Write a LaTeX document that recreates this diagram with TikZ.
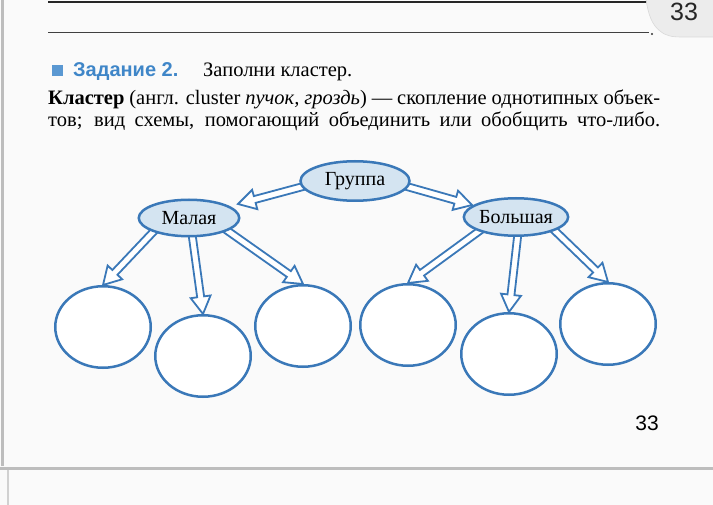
\documentclass[tikz,border=0pt]{standalone}
\usepackage{fontspec}
\setmainfont{Liberation Serif}
\newfontfamily\headsans{Liberation Sans}
\usetikzlibrary{shapes.geometric,shapes.arrows,calc,backgrounds}
\definecolor{bblue}{HTML}{3A78B8}
\definecolor{bfill}{HTML}{D4E4F1}
\definecolor{tblue}{HTML}{3F86C8}
\definecolor{sqblue}{HTML}{5A98D2}
\definecolor{pagebg}{HTML}{FAFAFA}
\definecolor{edgegray}{HTML}{BDBDBD}
\definecolor{tabgray}{HTML}{ECECEC}
\tikzset{
  oval/.style={ellipse, draw=bblue, line width=2.5pt, fill=bfill, inner sep=0pt,
    font=\fontsize{20}{20}\selectfont},
  cell/.style={ellipse, draw=bblue, line width=2.5pt, fill=white, inner sep=0pt,
    minimum width=95.5pt, minimum height=81.5pt},
  harrow/.style={single arrow, draw=bblue, line width=1.8pt, fill=white,
    inner sep=2.6pt, outer sep=0pt, single arrow head extend=6.5pt,
    single arrow tip angle=60},
  bodytext/.style={anchor=base west, inner sep=0pt, font=\fontsize{20.5}{22}\selectfont}
}
\newcommand\hollowarrow[3]{%
  \path let \p1=($(#3)-(#2)$), \n1={veclen(\x1,\y1)}, \n2={atan2(\y1,\x1)} in
    node[harrow, minimum height=\n1, rotate=\n2, anchor=tail] (#1) at (#2) {};}
\begin{document}
\begin{tikzpicture}[x=1pt,y=-1pt]
\useasboundingbox (0,0) rectangle (713,505);
\begin{scope}[on background layer]
\fill[pagebg] (0,0) rectangle (713,505);
\end{scope}
% page edges
\draw[edgegray, line width=3pt] (2,0) -- (2,466);
\draw[edgegray, line width=3pt] (0,468) -- (713,468);
\draw[edgegray!70, line width=1.5pt] (8,470) -- (8,505);
% top rules
\draw[black!85, line width=1.6pt] (48,2) -- (650,2);
\draw[black!75, line width=1pt] (48,33) -- (649,33);
\fill[black!80] (652,34) circle (1.2pt);
% page tab
\filldraw[fill=tabgray, draw=black!15, line width=0.6pt]
  (646,-1) .. controls (648,14) and (652,25) .. (660,31)
  .. controls (666,36) and (672,37) .. (682,37) -- (714,37) -- (714,-1) -- cycle;
\node[inner sep=0pt, font=\headsans\fontsize{25}{25}\selectfont, text=black!85] (tabnum) at (684,12) {33};
% heading
\fill[sqblue] (52,65) rectangle (63,76);
\node[bodytext, font=\headsans\bfseries\fontsize{20}{20}\selectfont, text=tblue] (task) at (73,77) {Задание 2.};
\node[bodytext] (fill) at (203,77) {Заполни кластер.};
\node[bodytext] (l1) at (48,105) {\makebox[612pt][s]{\textbf{Кластер} (англ. cluster \textit{пучок, гроздь}) — скопление однотипных объек-}};
\node[bodytext] (l2) at (48,127) {\makebox[612pt][s]{тов; вид схемы, помогающий объединить или обобщить что-либо.}};
% cluster
\node[oval, minimum width=109pt, minimum height=39.5pt] (grp) at (355,181) {Группа};
\node[oval, minimum width=100.5pt, minimum height=36.5pt] (mal) at (189,218) {Малая};
\node[oval, minimum width=97pt, minimum height=37.5pt] (bol) at (516,217) {Большая};
\node[cell] (c1) at (103,327) {};
\node[cell] (c2) at (203,356) {};
\node[cell] (c3) at (303,326) {};
\node[cell] (c4) at (408,325) {};
\node[cell] (c5) at (509,354) {};
\node[cell] (c6) at (608,324) {};
\coordinate (t1) at ($(grp)+(-50,5)$);
\coordinate (h1) at ($(mal)+(49,-14)$);
\coordinate (t2) at ($(grp)+(50,5)$);
\coordinate (h2) at ($(bol)+(-44,-12)$);
\coordinate (t3) at ($(mal)+(-34,12)$);
\coordinate (t4) at ($(mal)+(3,16)$);
\coordinate (t5) at ($(mal)+(36,11)$);
\coordinate (t6) at ($(bol)+(-34,12)$);
\coordinate (t7) at ($(bol)+(2,16)$);
\coordinate (t8) at ($(bol)+(36,11)$);
\begin{scope}[on background layer]
\hollowarrow{a1}{t1}{h1}
\hollowarrow{a2}{t2}{h2}
\hollowarrow{a3}{t3}{c1.north}
\hollowarrow{a4}{t4}{c2.north}
\hollowarrow{a5}{t5}{c3.north}
\hollowarrow{a6}{t6}{c4.north}
\hollowarrow{a7}{t7}{c5.north}
\hollowarrow{a8}{t8}{c6.north}
\end{scope}
\node[inner sep=0pt, font=\headsans\fontsize{21}{21}\selectfont] (pnum) at (647,423) {33};
\end{tikzpicture}
\end{document}
